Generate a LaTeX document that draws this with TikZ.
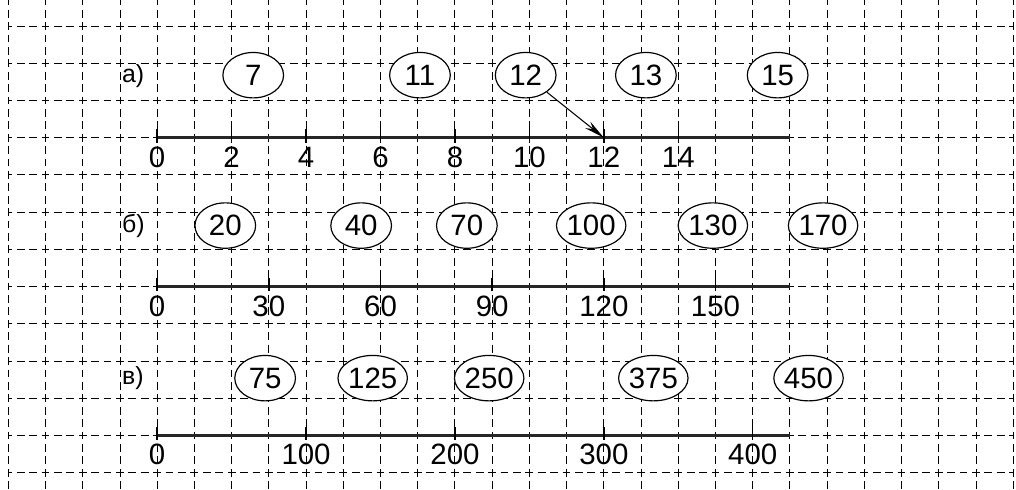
\documentclass[tikz,border=0pt]{standalone}
\usepackage{fontspec}
\setmainfont{Liberation Sans}
\usepackage{tikz}
\usetikzlibrary{shapes,arrows.meta,positioning}

\begin{document}
\begin{tikzpicture}[
    gridline/.style={line width=0.7pt, dash pattern=on 0.21cm off 0.1233cm, dash phase=0.105cm},
    numoval/.style={ellipse, draw, fill=white, line width=0.9pt, minimum width=1.63cm, minimum height=1.22cm, inner sep=0pt, font=\fontsize{22.5}{26}\selectfont},
    axisline/.style={line width=2.6pt, black!85},
    tickmark/.style={line width=1.1pt},
    ticklabel/.style={inner sep=0pt, font=\fontsize{22.5}{26}\selectfont},
    rowlabel/.style={anchor=west, inner sep=0pt, font=\fontsize{19}{22}\selectfont},
    arrow/.style={-{Stealth[length=0.55cm,width=0.22cm]}, line width=0.8pt}
]
\useasboundingbox (-0.223,-0.438) rectangle (27.074,12.70);

% squared paper
\begin{scope}
\clip (-0.223,-0.438) rectangle (27.074,12.70);
\foreach \x in {0,...,27}
    \draw[gridline] (\x,13) -- (\x,-0.6667);
\end{scope}
\foreach \y in {0,...,12}
    \draw[gridline] (0,\y) -- (27,\y);

% row a
\node[rowlabel] (la) at (3.05,10.65) {а)};
\foreach \x/\n in {6.58/7, 11.06/11, 13.90/12, 17.13/13, 20.67/15}
    \node[numoval] (a\n) at (\x,10.68) {\n};
\coordinate (astart) at (4,9);
\coordinate (aend) at (21,9);
\draw[axisline] (astart) -- (aend);
\foreach \v in {0,2,...,14} {
    \draw[tickmark] (4+\v,9.23) -- (4+\v,8.87);
    \node[ticklabel] (at\v) at (4+\v,8.47) {\v};
}
\coordinate (a12tick) at (16,9);
\draw[arrow] (a12) -- (a12tick);

% row b
\node[rowlabel] (lb) at (3.05,6.62) {б)};
\foreach \x/\n in {5.83/20, 9.48/40, 12.32/70, 15.66/100, 18.93/130, 21.89/170}
    \node[numoval] (b\n) at (\x,6.64) {\n};
\coordinate (bstart) at (4,5);
\coordinate (bend) at (21,5);
\draw[axisline] (bstart) -- (bend);
\foreach \v in {0,30,...,150} {
    \draw[tickmark] (4+\v/10,5.23) -- (4+\v/10,4.87);
    \node[ticklabel] (bt\v) at (4+\v/10,4.47) {\v};
}

% row c
\node[rowlabel] (lc) at (3.05,2.54) {в)};
\foreach \x/\n in {6.90/75, 9.79/125, 12.92/250, 17.33/375, 21.50/450}
    \node[numoval] (c\n) at (\x,2.54) {\n};
\coordinate (cstart) at (4,1);
\coordinate (cend) at (21,1);
\draw[axisline] (cstart) -- (cend);
\foreach \v in {0,100,...,400} {
    \draw[tickmark] (4+\v/25,1.23) -- (4+\v/25,0.87);
    \node[ticklabel] (ct\v) at (4+\v/25,0.49) {\v};
}
\end{tikzpicture}
\end{document}
